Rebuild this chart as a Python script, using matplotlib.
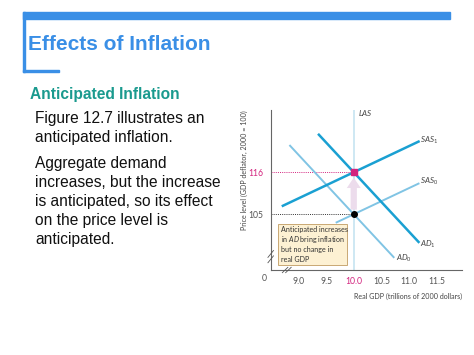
import matplotlib
matplotlib.use("Agg")
import matplotlib.pyplot as plt
from matplotlib.patches import Rectangle
import numpy as np

plt.rcParams["font.family"] = ["Liberation Sans", "DejaVu Sans"]
plt.rcParams["mathtext.fontset"] = "custom"
plt.rcParams["mathtext.rm"] = "Lato"
plt.rcParams["mathtext.it"] = "Lato:italic"

# slide text
title = "Effects of Inflation"
subtitle = "Anticipated Inflation"
para1 = ["Figure 12.7 illustrates an", "anticipated inflation."]
para2 = ["Aggregate demand", "increases, but the increase", "is anticipated, so its effect",
         "on the price level is", "anticipated."]

# chart data
gdp_potential = 10.0
price_before = 105
price_after = 116
sas_slope = 6.86
ad_slope = -15.6
sas0_x = [9.69, 11.17]
sas1_x = [8.72, 11.17]
ad0_x = [8.85, 10.72]
ad1_x = [9.37, 11.17]
xticks = [9.0, 9.5, 10.0, 10.5, 11.0, 11.5]
yticks = [105, 116]

W, H = 474, 355
fig = plt.figure(figsize=(W / 100, H / 100), dpi=100)
fig.patch.set_facecolor("white")


def px(x, y):
    return x / W, 1 - y / H


def rect_px(x0, y0, x1, y1, color):
    fig.patches.append(Rectangle((x0 / W, 1 - y1 / H), (x1 - x0) / W, (y1 - y0) / H,
                                 transform=fig.transFigure, color=color, zorder=1))


blue = "#3a8fe6"
rect_px(23, 11.5, 450, 18.5, blue)
rect_px(23, 11.5, 25, 72, blue)
rect_px(23, 69.5, 59, 72, blue)

fig.text(*px(28, 44), title, fontsize=15, fontweight="bold", color=blue, va="center")
fig.text(*px(30, 95), subtitle, fontsize=11.2, fontweight="bold", color="#1a9a8e", va="center")
for i, line in enumerate(para1):
    fig.text(*px(35, 118.5 + 19 * i), line, fontsize=11.2, color="#111111", va="center")
for i, line in enumerate(para2):
    fig.text(*px(35, 163.5 + 19 * i), line, fontsize=11.2, color="#111111", va="center")

# chart axes
ax = fig.add_axes([270.7 / W, 1 - 270 / H, (462 - 270.7) / W, (270 - 110) / H])
ax.set_xlim(8.5, 11.955)
ax.set_ylim(90.4, 132.3)
for s in ["top", "right"]:
    ax.spines[s].set_visible(False)
for s in ["left", "bottom"]:
    ax.spines[s].set_color("#666666")
    ax.spines[s].set_linewidth(0.8)

strong = "#1aa0d2"
light = "#80c4e4"
magenta = "#d3247e"
cfont = "Lato"

ax.axvline(gdp_potential, color="#c6e4f1", lw=1.2, zorder=1)

x = np.array(sas0_x)
ax.plot(x, price_before + sas_slope * (x - gdp_potential), color=light, lw=1.4, zorder=3)
x = np.array(ad0_x)
ax.plot(x, price_before + ad_slope * (x - gdp_potential), color=light, lw=1.4, zorder=3)
x = np.array(sas1_x)
ax.plot(x, price_after + sas_slope * (x - gdp_potential), color=strong, lw=1.8, zorder=4)
x = np.array(ad1_x)
ax.plot(x, price_after + ad_slope * (x - gdp_potential), color=strong, lw=1.8, zorder=4)

ax.annotate("", xy=(gdp_potential, price_after - 1.4), xytext=(gdp_potential, price_before + 1.2),
            arrowprops=dict(arrowstyle="simple,head_width=1.0,head_length=0.75,tail_width=0.45",
                            mutation_scale=10, color="#ecdcec", lw=0, shrinkA=0, shrinkB=0),
            zorder=2)

ax.plot([8.5, gdp_potential], [price_after] * 2, color=magenta, lw=0.7, ls=(0, (1, 1.2)), zorder=2)
ax.plot([8.5, gdp_potential], [price_before] * 2, color="#333333", lw=0.7, ls=(0, (1, 1.2)), zorder=2)
ax.plot(gdp_potential, price_after, "s", color=magenta, ms=4, zorder=5)
ax.plot(gdp_potential, price_before, "o", color="black", ms=4, zorder=5)

ax.set_xticks(xticks)
ax.set_xticklabels([f"{t:.1f}" for t in xticks], fontsize=6.2, color="#555555", family=cfont)
ax.get_xticklabels()[2].set_color(magenta)
ax.set_yticks(yticks)
ax.set_yticklabels([str(t) for t in yticks], fontsize=6.2, color="#555555", family=cfont)
ax.get_yticklabels()[1].set_color(magenta)
ax.tick_params(length=0, pad=5)
ax.text(8.39, 88.2, "0", fontsize=6.2, color="#555555", family=cfont, ha="center", va="center",
        clip_on=False)

ax.set_xlabel("Real GDP (trillions of 2000 dollars)", fontsize=5.1, color="#444444",
              family=cfont, ha="right", x=1.0, labelpad=5)
ax.set_ylabel("Price level (GDP deflator, 2000 = 100)", fontsize=5.1, color="#444444",
              family=cfont)
ax.yaxis.set_label_coords(-0.119, 0.625)

# axis breaks
for dx in [-0.03, 0.03]:
    ax.plot([8.79 + dx - 0.05, 8.79 + dx + 0.05], [89.7, 91.1], color="#555555", lw=0.6,
            clip_on=False, zorder=6)
for dy in [-0.7, 0.7]:
    ax.plot([8.45, 8.55], [93.9 + dy - 0.9, 93.9 + dy + 0.9], color="#555555", lw=0.6,
            clip_on=False, zorder=6)

ax.text(10.07, 131.6, "$\\it{LAS}$", fontsize=5.8, color="#444444", va="center")
ax.text(11.2, 124.3, "$\\it{SAS}_1$", fontsize=5.8, color="#444444", va="center")
ax.text(11.2, 113.5, "$\\it{SAS}_0$", fontsize=5.8, color="#444444", va="center")
ax.text(11.2, 97.1, "$\\it{AD}_1$", fontsize=5.8, color="#444444", va="center")
ax.text(10.76, 93.5, "$\\it{AD}_0$", fontsize=5.8, color="#444444", va="center")

ax.add_patch(Rectangle((8.637, 91.75), 1.246, 10.7, facecolor="#fdf1d3", edgecolor="#c9a874",
                       lw=0.7, zorder=6))
box_lines = ["Anticipated increases", "in $\\it{AD}$ bring inflation", "but no change in", "real GDP"]
for i, line in enumerate(box_lines):
    ax.text(8.69, 100.9 - 2.62 * i, line, fontsize=5.1, color="#333333", family=cfont,
            va="center", zorder=7)

fig.savefig("out.png", dpi=100)
